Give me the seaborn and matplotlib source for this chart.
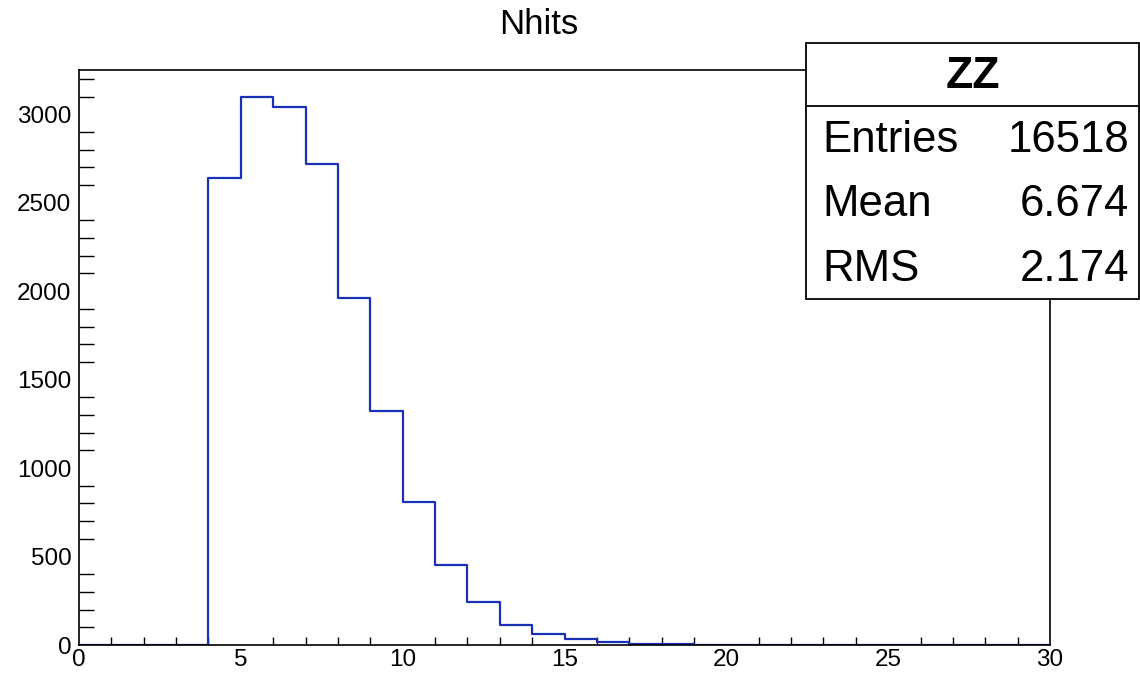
import numpy as np
import pandas as pd
import matplotlib
matplotlib.use("Agg")
import matplotlib.pyplot as plt
from matplotlib.patches import Rectangle
from matplotlib.lines import Line2D
from matplotlib.ticker import MultipleLocator
import seaborn as sns

# ---- data ----
bin_left = [4, 5, 6, 7, 8, 9, 10, 11, 12, 13, 14, 15, 16, 17, 18, 19, 20]
counts = [2640, 3095, 3040, 2720, 1960, 1320, 807, 453, 242, 115, 60, 36, 19, 5, 3, 2, 1]
bin_edges = list(range(0, 31))
title = "Nhits"
stats_title = "ZZ"
stats_labels = ["Entries", "Mean", "RMS"]
stats_values = ["16518", "6.674", "2.174"]

sns.set_style("white")
plt.rcParams['font.family'] = ['Liberation Sans', 'DejaVu Sans']
plt.rcParams['text.color'] = 'black'
plt.rcParams['xtick.color'] = 'black'
plt.rcParams['ytick.color'] = 'black'

W, H = 1140, 674
fig = plt.figure(figsize=(W / 100, H / 100), dpi=100)
L, R, T, B = 79, 1050, 70, 645
ax = fig.add_axes([L / W, 1 - B / H, (R - L) / W, (B - T) / H])

df = pd.DataFrame({"x": np.array(bin_left) + 0.5, "w": counts})
sns.histplot(data=df, x="x", weights="w", bins=bin_edges, element="step",
             fill=False, color="#1a30b8", linewidth=1.6, ax=ax)

ax.set_xlim(0, 30)
ax.set_ylim(0, 3250)
ax.set_xlabel("")
ax.set_ylabel("")
for s in ax.spines.values():
    s.set_color("black")
    s.set_linewidth(1.2)
    s.set_visible(True)

ax.xaxis.set_major_locator(MultipleLocator(5))
ax.xaxis.set_minor_locator(MultipleLocator(1))
ax.yaxis.set_major_locator(MultipleLocator(500))
ax.yaxis.set_minor_locator(MultipleLocator(100))
ax.tick_params(axis="x", which="major", direction="in", length=12.5, width=1.0,
               labelsize=17.5, pad=3, top=False, color="black", labelcolor="black")
ax.tick_params(axis="x", which="minor", direction="in", length=6, width=1.0,
               top=False, bottom=True, color="black")
ax.tick_params(axis="y", which="major", direction="in", length=21, width=1.0,
               labelsize=17.5, pad=5.5, right=False, color="black", labelcolor="black")
ax.tick_params(axis="y", which="minor", direction="in", length=11, width=1.0,
               right=False, left=True, color="black")

fig.text(539 / W, 1 - 24 / H, title, ha="center", va="center", fontsize=25)

# stats box
bx0, bx1, by0, by1, bmid = 806, 1139, 43, 299, 106
rect = Rectangle((bx0 / W, 1 - by1 / H), (bx1 - bx0) / W, (by1 - by0) / H,
                 transform=fig.transFigure, facecolor="white", edgecolor="black",
                 linewidth=1.3, zorder=5)
fig.add_artist(rect)
fig.add_artist(Line2D([bx0 / W, bx1 / W], [1 - bmid / H, 1 - bmid / H],
                      transform=fig.transFigure, color="black", linewidth=1.3, zorder=6))
fig.text(973 / W, 1 - 76 / H, stats_title, ha="center", va="center",
         fontsize=32, fontweight="bold", zorder=7)
row_y = [140, 205, 269]
for lab, val, yy in zip(stats_labels, stats_values, row_y):
    fig.text(822 / W, 1 - yy / H, lab, ha="left", va="center", fontsize=31.5, zorder=7)
    fig.text(1129 / W, 1 - yy / H, val, ha="right", va="center", fontsize=31.5, zorder=7)

fig.savefig("out.png", dpi=100)
